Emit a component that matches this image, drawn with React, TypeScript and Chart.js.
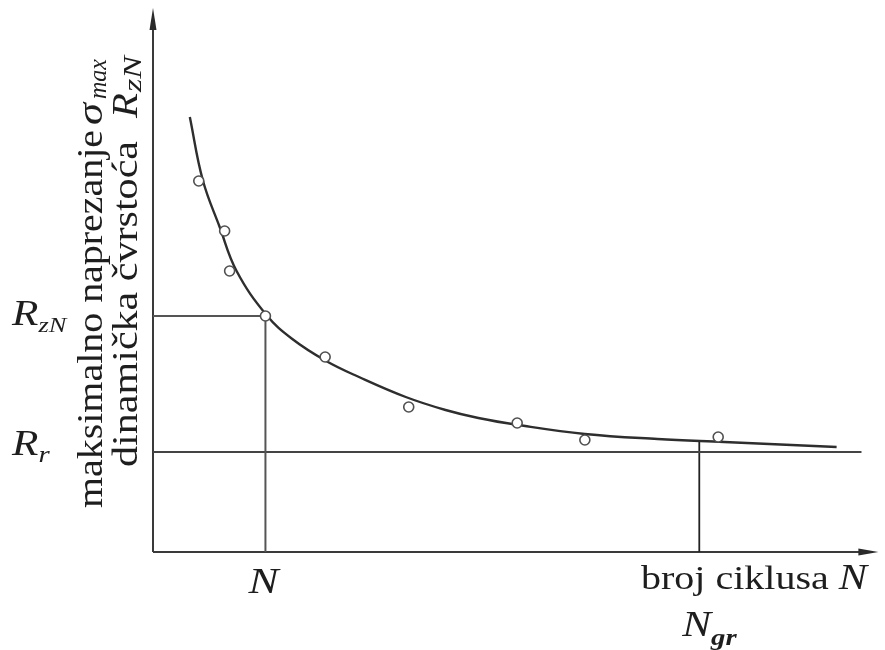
import React, { useEffect, useRef } from "react";
import { Chart, registerables } from "chart.js";

Chart.register(...registerables);

// Fitted S-N (Wöhler) curve (x: cycles axis units, y: stress units)
const curveX = [37, 50, 67, 84, 114, 140, 174, 207, 254, 294, 327, 367, 434, 507, 574, 687];
const curveY = [435, 372, 325, 281, 237, 213, 191, 175, 155, 142, 134, 127, 118, 113, 110, 105];

// Measured test points (small circles)
const sampleX = [46, 72, 77, 113, 173, 257, 366, 434, 568];
const sampleY = [371, 321, 281, 236, 195, 145, 129, 112, 115];

// Reference levels
const nValue = 113; // N
const rENValue = 236; // R_zN
const nGrValue = 549; // N_gr
const nGrTop = 110;
const rRValue = 100; // R_r
const rRLineEnd = 712;

const X_MAX = 729;
const Y_MAX = 544;

const TEXT = "#1e1e1e";

function pickSerif(): string {
  try {
    const c = document.createElement("canvas").getContext("2d");
    if (!c) return "serif";
    const test = "maksimalno naprezanje RrNgr";
    c.font = "40px monospace";
    const base = c.measureText(test).width;
    const cands = [
      "Liberation Serif",
      "Tinos",
      "Times New Roman",
      "Nimbus Roman",
      "Nimbus Roman No9 L",
      "FreeSerif",
      "Noto Serif",
      "DejaVu Serif",
    ];
    for (const f of cands) {
      c.font = `40px "${f}", monospace`;
      if (Math.abs(c.measureText(test).width - base) > 0.5) return `"${f}", serif`;
    }
  } catch (e) {}
  return "serif";
}

type Part = { t: string; f: string; dy?: number };

function partsWidth(ctx: CanvasRenderingContext2D, parts: Part[]) {
  let w = 0;
  for (const p of parts) {
    ctx.font = p.f;
    w += ctx.measureText(p.t).width;
  }
  return w;
}

function drawParts(ctx: CanvasRenderingContext2D, parts: Part[], x: number, y: number, sx: number) {
  ctx.save();
  ctx.translate(x, y);
  ctx.scale(sx, 1);
  ctx.textBaseline = "alphabetic";
  ctx.textAlign = "left";
  let cx = 0;
  for (const p of parts) {
    ctx.font = p.f;
    ctx.fillText(p.t, cx, p.dy || 0);
    cx += ctx.measureText(p.t).width;
  }
  ctx.restore();
}

// rotated text (reads bottom to top); baseline at x, starts at yStart, spans `len` pixels upward
function drawRot(ctx: CanvasRenderingContext2D, t: string, f: string, x: number, yStart: number, len: number) {
  ctx.save();
  ctx.translate(x, yStart);
  ctx.rotate(-Math.PI / 2);
  ctx.font = f;
  const w = ctx.measureText(t).width;
  ctx.scale(len / w, 1);
  ctx.textBaseline = "alphabetic";
  ctx.textAlign = "left";
  ctx.fillText(t, 0, 0);
  ctx.restore();
}

function makeOverlay(SERIF: string) {
  const it = (s: number) => `italic ${s}px ${SERIF}`;
  const rm = (s: number) => `${s}px ${SERIF}`;
  return {
    id: "overlay",
    beforeDatasetsDraw(chart: any) {
      const { ctx, chartArea: a } = chart;
      ctx.save();
      ctx.strokeStyle = "#3a3a3a";
      ctx.fillStyle = "#2a2a2a";
      ctx.lineWidth = 2;
      // y axis
      ctx.beginPath();
      ctx.moveTo(a.left, a.bottom);
      ctx.lineTo(a.left, a.top + 16);
      ctx.stroke();
      ctx.beginPath();
      ctx.moveTo(a.left, a.top);
      ctx.lineTo(a.left - 3.5, a.top + 22);
      ctx.lineTo(a.left + 3.5, a.top + 22);
      ctx.closePath();
      ctx.fill();
      // x axis
      ctx.beginPath();
      ctx.moveTo(a.left, a.bottom);
      ctx.lineTo(a.right - 14, a.bottom);
      ctx.stroke();
      ctx.beginPath();
      ctx.moveTo(a.right, a.bottom);
      ctx.lineTo(a.right - 20, a.bottom - 3.5);
      ctx.lineTo(a.right - 20, a.bottom + 3.5);
      ctx.closePath();
      ctx.fill();
      ctx.restore();
    },
    afterDraw(chart: any) {
      const { ctx } = chart;
      const xs = chart.scales.x;
      const ys = chart.scales.y;
      ctx.save();
      ctx.fillStyle = TEXT;

      // y-axis level labels
      const yEN = ys.getPixelForValue(rENValue);
      drawParts(ctx, [{ t: "R", f: it(36) }, { t: "zN", f: it(22), dy: 7 }], 12, yEN + 9, 1.2);
      const yR = ys.getPixelForValue(rRValue);
      drawParts(ctx, [{ t: "R", f: it(36) }, { t: "r", f: it(24), dy: 7 }], 12, yR + 3, 1.2);

      // x-axis labels
      const xN = xs.getPixelForValue(nValue);
      const nParts: Part[] = [{ t: "N", f: it(36) }];
      const nW = partsWidth(ctx, nParts) * 1.25;
      drawParts(ctx, nParts, xN - nW / 2 - 2, 593, 1.25);

      const bParts: Part[] = [
        { t: "broj ciklusa ", f: rm(34) },
        { t: "N", f: it(36) },
      ];
      const bW = partsWidth(ctx, bParts);
      drawParts(ctx, bParts, 641, 589, 226 / bW);

      const xG = xs.getPixelForValue(nGrValue);
      drawParts(
        ctx,
        [{ t: "N", f: it(36) }, { t: "gr", f: `italic bold 24px ${SERIF}`, dy: 9 }],
        xG - 17,
        636,
        1.2
      );

      // rotated axis title, two lines
      drawRot(ctx, "maksimalno naprezanje", rm(36), 102, 508, 378);
      drawRot(ctx, "σ", it(36), 102, 125, 22);
      drawRot(ctx, "max", it(26), 106, 99, 40);

      drawRot(ctx, "dinamička čvrstoća", rm(36), 137, 467, 326);
      drawRot(ctx, "R", it(36), 137, 118, 25);
      drawRot(ctx, "zN", it(26), 141, 92, 36);

      ctx.restore();
    },
  };
}

export default function App() {
  const ref = useRef<HTMLCanvasElement | null>(null);

  useEffect(() => {
    if (!ref.current) return;
    const SERIF = pickSerif();
    const curve = curveX.map((x, i) => ({ x, y: curveY[i] }));
    const samples = sampleX.map((x, i) => ({ x, y: sampleY[i] }));
    const guideN = [
      { x: 0, y: rENValue },
      { x: nValue, y: rENValue },
      { x: nValue, y: 0 },
    ];
    const guideR = [
      { x: 0, y: rRValue },
      { x: rRLineEnd, y: rRValue },
    ];
    const guideG = [
      { x: nGrValue, y: nGrTop },
      { x: nGrValue, y: 0 },
    ];

    const chart = new Chart(ref.current, {
      type: "scatter",
      data: {
        datasets: [
          {
            label: "points",
            data: samples,
            showLine: false,
            pointRadius: 5,
            pointBackgroundColor: "#ffffff",
            pointBorderColor: "#505050",
            pointBorderWidth: 1.6,
          },
          {
            label: "curve",
            data: curve,
            showLine: true,
            pointRadius: 0,
            borderColor: "#2e2e2e",
            borderWidth: 2.4,
            tension: 0.4,
          },
          {
            label: "N",
            data: guideN,
            showLine: true,
            pointRadius: 0,
            borderColor: "#555555",
            borderWidth: 2,
            tension: 0,
          },
          {
            label: "Rr",
            data: guideR,
            showLine: true,
            pointRadius: 0,
            borderColor: "#444444",
            borderWidth: 2,
            tension: 0,
          },
          {
            label: "Ngr",
            data: guideG,
            showLine: true,
            pointRadius: 0,
            borderColor: "#222222",
            borderWidth: 1.8,
            tension: 0,
          },
        ],
      },
      options: {
        responsive: false,
        animation: false,
        layout: { padding: { left: 153, right: 3, top: 8, bottom: 98 } },
        scales: {
          x: { type: "linear", min: 0, max: X_MAX, display: false },
          y: { type: "linear", min: 0, max: Y_MAX, display: false },
        },
        plugins: {
          legend: { display: false },
          tooltip: { enabled: false },
        },
        elements: { line: { borderCapStyle: "butt" } },
      },
      plugins: [makeOverlay(SERIF)],
    });
    return () => chart.destroy();
  }, []);

  return (
    <div style={{ position: "absolute", left: 0, top: 0, width: 885, height: 650, background: "#fff" }}>
      <canvas ref={ref} width={885} height={650} style={{ display: "block" }} />
    </div>
  );
}
